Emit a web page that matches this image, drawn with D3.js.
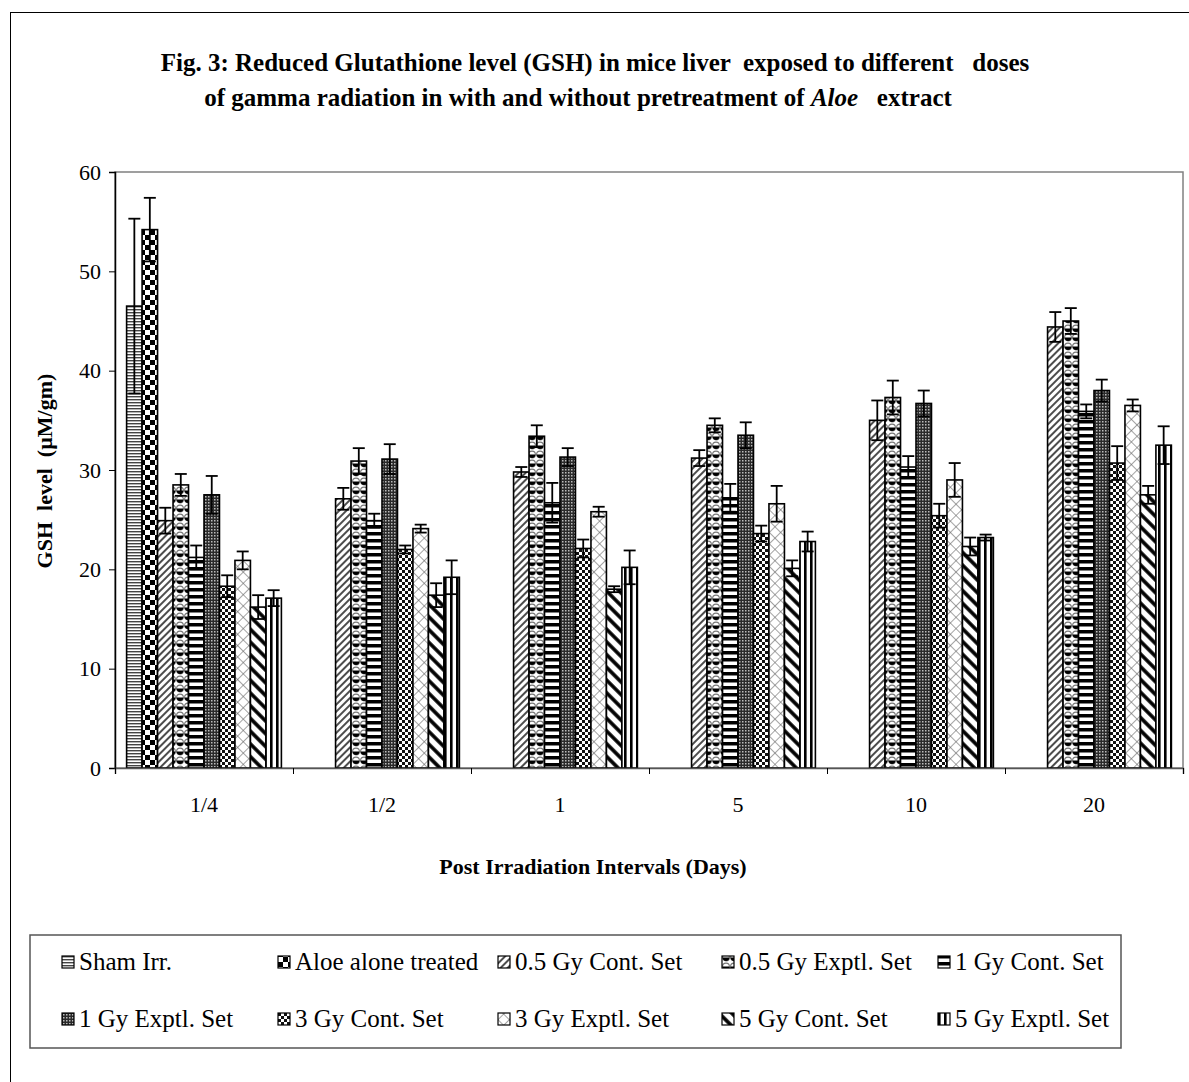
<!DOCTYPE html>
<html>
<head>
<meta charset="utf-8">
<script src="https://cdn.jsdelivr.net/npm/d3@7"></script>
<style>
  body { margin: 0; background: #fff; }
  svg text { font-family: "Liberation Serif", "Times New Roman", serif; fill: #000; }
</style>
</head>
<body>
<svg id="chart" width="1189" height="1082"></svg>
<script>
let intervals = ["1/4", "1/2", "1", "5", "10", "20"];

let series_names = ["Sham Irr.", "Aloe alone treated", "0.5 Gy Cont. Set", "0.5 Gy Exptl. Set", "1 Gy Cont. Set",
    "1 Gy Exptl. Set", "3 Gy Cont. Set", "3 Gy Exptl. Set", "5 Gy Cont. Set", "5 Gy Exptl. Set"];

// one row per series, one value per interval (null = not measured)
let sham_irr     = [46.5, null, null, null, null, null];
let aloe_alone   = [54.2, null, null, null, null, null];
let cont_05      = [24.9, 27.1, 29.8, 31.2, 35.0, 44.4];
let exptl_05     = [28.5, 30.9, 33.4, 34.5, 37.3, 45.0];
let cont_1       = [21.2, 24.9, 26.7, 27.2, 30.3, 35.9];
let exptl_1      = [27.5, 31.1, 31.3, 33.5, 36.7, 38.0];
let cont_3       = [18.3, 22.0, 22.1, 23.6, 25.4, 30.7];
let exptl_3      = [20.9, 24.1, 25.8, 26.6, 29.0, 36.5];
let cont_5       = [16.2, 17.4, 18.0, 20.1, 22.3, 27.5];
let exptl_5      = [17.1, 19.2, 20.2, 22.8, 23.2, 32.5];

let sham_irr_err   = [8.8, null, null, null, null, null];
let aloe_alone_err = [3.2, null, null, null, null, null];
let cont_05_err    = [1.3, 1.1, 0.5, 0.8, 2.0, 1.5];
let exptl_05_err   = [1.1, 1.3, 1.1, 0.7, 1.7, 1.3];
let cont_1_err     = [1.2, 0.7, 2.0, 1.4, 1.1, 0.7];
let exptl_1_err    = [1.9, 1.5, 0.9, 1.3, 1.3, 1.1];
let cont_3_err     = [1.1, 0.4, 0.9, 0.8, 1.2, 1.7];
let exptl_3_err    = [0.9, 0.4, 0.5, 1.8, 1.7, 0.6];
let cont_5_err     = [1.2, 1.2, 0.3, 0.8, 0.9, 0.9];
let exptl_5_err    = [0.8, 1.7, 1.7, 1.0, 0.3, 1.9];

let y_ticks = [0, 10, 20, 30, 40, 50, 60];

let all_values = [sham_irr, aloe_alone, cont_05, exptl_05, cont_1, exptl_1, cont_3, exptl_3, cont_5, exptl_5];
let all_errors = [sham_irr_err, aloe_alone_err, cont_05_err, exptl_05_err, cont_1_err, exptl_1_err,
    cont_3_err, exptl_3_err, cont_5_err, exptl_5_err];
let pattern_ids = ["p_sham", "p_aloe", "p_c05", "p_e05", "p_c1", "p_e1", "p_c3", "p_e3", "p_c5", "p_e5"];

let svg = d3.select("#chart");
let plot = {left: 115, right: 1183, top: 172, bottom: 768};

function add_patterns(defs) {
    function pat(id, w, h, transform) {
        let p = defs.append("pattern").attr("id", id)
            .attr("patternUnits", "userSpaceOnUse")
            .attr("width", w).attr("height", h);
        if (transform) p.attr("patternTransform", transform);
        p.append("rect").attr("width", w).attr("height", h).attr("fill", "#fff");
        return p;
    }

    // fine horizontal lines
    pat("p_sham", 4, 3).append("rect").attr("y", 0).attr("width", 4).attr("height", 1.4).attr("fill", "#444");

    // big checkerboard
    let aloe = pat("p_aloe", 10, 10);
    aloe.append("rect").attr("width", 5).attr("height", 5).attr("fill", "#000");
    aloe.append("rect").attr("x", 5).attr("y", 5).attr("width", 5).attr("height", 5).attr("fill", "#000");

    // thin "/" diagonals
    pat("p_c05", 5, 5, "rotate(45)").append("line")
        .attr("x1", 1).attr("y1", 0).attr("x2", 1).attr("y2", 5)
        .attr("stroke", "#111").attr("stroke-width", 1.5);

    // balls
    let e05 = pat("p_e05", 8, 9);
    e05.append("circle").attr("cx", 4).attr("cy", 4.5).attr("r", 3.4)
        .attr("fill", "#fff").attr("stroke", "#777").attr("stroke-width", 1.1);
    e05.append("path").attr("d", "M0.6,4.5 A3.4,3.4 0 0 0 7.4,4.5 Z").attr("fill", "#000");

    // wide horizontal stripes
    pat("p_c1", 4, 7).append("rect").attr("y", 0).attr("width", 4).attr("height", 3.5).attr("fill", "#000");

    // dense small grid
    let e1 = defs.append("pattern").attr("id", "p_e1")
        .attr("patternUnits", "userSpaceOnUse").attr("width", 3).attr("height", 3);
    e1.append("rect").attr("width", 3).attr("height", 3).attr("fill", "#2a2a2a");
    e1.append("rect").attr("x", 1).attr("y", 1).attr("width", 1.5).attr("height", 1.5).attr("fill", "#bbb");

    // small checkerboard
    let c3 = pat("p_c3", 6, 6);
    c3.append("rect").attr("width", 3).attr("height", 3).attr("fill", "#111");
    c3.append("rect").attr("x", 3).attr("y", 3).attr("width", 3).attr("height", 3).attr("fill", "#111");

    // diagonal cross hatch
    let e3 = pat("p_e3", 8, 8, "rotate(45)");
    e3.append("line").attr("x1", 0).attr("y1", 0).attr("x2", 0).attr("y2", 8)
        .attr("stroke", "#666").attr("stroke-width", 1.2);
    e3.append("line").attr("x1", 0).attr("y1", 0).attr("x2", 8).attr("y2", 0)
        .attr("stroke", "#666").attr("stroke-width", 1.2);

    // wide "\" diagonals
    pat("p_c5", 9, 9, "rotate(-45)").append("line")
        .attr("x1", 2).attr("y1", 0).attr("x2", 2).attr("y2", 9)
        .attr("stroke", "#000").attr("stroke-width", 3.6);

    // wide vertical stripes
    pat("p_e5", 6, 4).append("rect").attr("x", 0).attr("width", 2.6).attr("height", 4).attr("fill", "#000");
}

function draw_chart() {
    let defs = svg.append("defs");
    add_patterns(defs);

    // outer frame
    svg.append("rect")
        .attr("x", 10.5).attr("y", 12.5).attr("width", 1400).attr("height", 1400)
        .attr("fill", "none").attr("stroke", "#000").attr("stroke-width", 1);

    // title
    let title = svg.append("text")
        .attr("text-anchor", "middle")
        .style("font-size", "25px").style("font-weight", "bold")
        .style("white-space", "pre");
    title.append("tspan").attr("x", 595).attr("y", 71)
        .text("Fig. 3: Reduced Glutathione level (GSH) in mice liver  exposed to different   doses");
    let line2 = title.append("tspan").attr("x", 578).attr("y", 106);
    line2.append("tspan").text("of gamma radiation in with and without pretreatment of ");
    line2.append("tspan").style("font-style", "italic").text("Aloe");
    line2.append("tspan").text("   extract");

    let x0 = d3.scaleBand().domain(intervals).range([plot.left, plot.right]).padding(0);
    let x1 = d3.scaleBand().domain(series_names).range([0, x0.bandwidth()])
        .paddingInner(0).paddingOuter(0.75);
    let y = d3.scaleLinear().domain([0, 60]).range([plot.bottom, plot.top]);

    // plot area border
    svg.append("rect")
        .attr("x", plot.left).attr("y", plot.top)
        .attr("width", plot.right - plot.left).attr("height", plot.bottom - plot.top)
        .attr("fill", "none").attr("stroke", "#808080").attr("stroke-width", 1.5);

    let bars = [];
    for (let s = 0; s < series_names.length; s++) {
        for (let i = 0; i < intervals.length; i++) {
            if (all_values[s][i] === null) continue;
            bars.push({series: s, interval: intervals[i], value: all_values[s][i], err: all_errors[s][i]});
        }
    }

    svg.append("g").attr("class", "bars")
        .selectAll("rect")
        .data(bars)
        .enter().append("rect")
        .attr("x", function (d) { return x0(d.interval) + x1(series_names[d.series]); })
        .attr("y", function (d) { return y(d.value); })
        .attr("width", x1.bandwidth())
        .attr("height", function (d) { return y(0) - y(d.value); })
        .attr("fill", function (d) { return "url(#" + pattern_ids[d.series] + ")"; })
        .attr("stroke", "#000").attr("stroke-width", 1.6);

    // error bars
    let eb = svg.append("g").attr("class", "errors")
        .selectAll("g").data(bars).enter().append("g")
        .attr("stroke", "#000").attr("stroke-width", 1.8);
    let cx = function (d) { return x0(d.interval) + x1(series_names[d.series]) + x1.bandwidth() / 2; };
    eb.append("line")
        .attr("x1", cx).attr("x2", cx)
        .attr("y1", function (d) { return y(d.value - d.err); })
        .attr("y2", function (d) { return y(d.value + d.err); });
    eb.append("line")
        .attr("x1", function (d) { return cx(d) - 6; }).attr("x2", function (d) { return cx(d) + 6; })
        .attr("y1", function (d) { return y(d.value + d.err); })
        .attr("y2", function (d) { return y(d.value + d.err); });
    eb.append("line")
        .attr("x1", function (d) { return cx(d) - 6; }).attr("x2", function (d) { return cx(d) + 6; })
        .attr("y1", function (d) { return y(d.value - d.err); })
        .attr("y2", function (d) { return y(d.value - d.err); });

    // y axis
    let y_axis = svg.append("g")
        .attr("transform", "translate(" + plot.left + ",0)")
        .call(d3.axisLeft(y).tickValues(y_ticks).tickSize(6).tickPadding(8));
    y_axis.select(".domain").attr("stroke", "#000").attr("stroke-width", 1.5);
    y_axis.selectAll(".tick line").attr("stroke", "#000");
    y_axis.selectAll("text").style("font-size", "22px").style("font-family", "Liberation Serif");

    // x axis: ticks between groups, labels at group centres
    let x_edges = d3.scaleLinear().domain([0, intervals.length]).range([plot.left, plot.right]);
    let x_axis = svg.append("g")
        .attr("transform", "translate(0," + plot.bottom + ")")
        .call(d3.axisBottom(x_edges).ticks(intervals.length).tickSize(6).tickFormat(""));
    x_axis.select(".domain").attr("stroke", "#555").attr("stroke-width", 1.5);
    x_axis.selectAll(".tick line").attr("stroke", "#000");

    let x_labels = svg.append("g")
        .attr("transform", "translate(0," + plot.bottom + ")")
        .call(d3.axisBottom(x0).tickSize(0).tickPadding(28));
    x_labels.select(".domain").remove();
    x_labels.selectAll("text").style("font-size", "22px").style("font-family", "Liberation Serif");

    // axis titles
    svg.append("text")
        .attr("transform", "translate(52,471) rotate(-90)")
        .attr("text-anchor", "middle")
        .style("font-size", "22px").style("font-weight", "bold")
        .style("white-space", "pre")
        .text("GSH  level  (\u00b5M/gm)");

    svg.append("text")
        .attr("x", 593).attr("y", 874)
        .attr("text-anchor", "middle")
        .style("font-size", "22px").style("font-weight", "bold")
        .text("Post Irradiation Intervals (Days)");

    // legend
    let legend_box = {x: 30, y: 935, w: 1091, h: 113};
    svg.append("rect")
        .attr("x", legend_box.x).attr("y", legend_box.y)
        .attr("width", legend_box.w).attr("height", legend_box.h)
        .attr("fill", "#fff").attr("stroke", "#555").attr("stroke-width", 1.5);

    let col_x = [62, 278, 498, 722, 938];
    let row_y = [962, 1019];

    let items = svg.append("g").attr("class", "legend")
        .selectAll("g").data(series_names).enter().append("g")
        .attr("transform", function (d, i) {
            return "translate(" + col_x[i % 5] + "," + row_y[Math.floor(i / 5)] + ")";
        });
    items.append("rect")
        .attr("x", 0).attr("y", -6).attr("width", 12).attr("height", 12)
        .attr("fill", function (d, i) { return "url(#" + pattern_ids[i] + ")"; })
        .attr("stroke", "#000").attr("stroke-width", 1.2);
    items.append("text")
        .attr("x", 17).attr("y", 8)
        .style("font-size", "25px")
        .text(function (d) { return d; });
}

draw_chart();
</script>
</body>
</html>
